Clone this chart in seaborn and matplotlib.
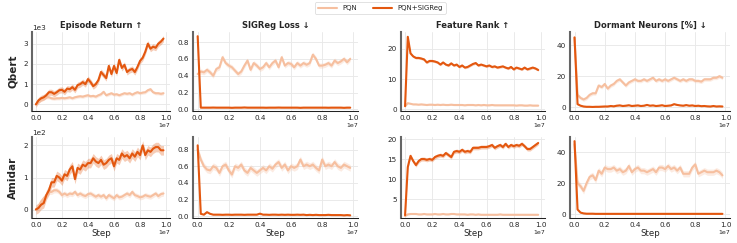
import numpy as np
import pandas as pd
import seaborn as sns
import matplotlib.pyplot as plt
from matplotlib.ticker import MultipleLocator

# training steps (x 1e7)
steps = np.arange(50) * 2e5

# ---- Qbert ----
qbert_return_pqn = [0.0, 0.15, 0.25, 0.3, 0.35, 0.35, 0.3, 0.28, 0.3, 0.3,
                    0.32, 0.3, 0.32, 0.35, 0.3, 0.35, 0.38, 0.4, 0.38, 0.42,
                    0.45, 0.4, 0.42, 0.38, 0.45, 0.5, 0.62, 0.45, 0.5, 0.55,
                    0.48, 0.5, 0.45, 0.5, 0.55, 0.52, 0.55, 0.48, 0.55, 0.6,
                    0.55, 0.58, 0.6, 0.7, 0.75, 0.6, 0.55, 0.55, 0.52, 0.55]
qbert_return_sig = [0.0, 0.2, 0.3, 0.35, 0.45, 0.6, 0.6, 0.52, 0.6, 0.7,
                    0.72, 0.62, 0.78, 0.75, 0.85, 0.72, 0.95, 1.0, 1.1, 1.0,
                    1.25, 1.1, 0.9, 1.0, 1.2, 1.6, 1.45, 1.3, 1.9, 1.5,
                    1.9, 1.55, 2.2, 1.8, 1.95, 1.6, 1.7, 1.75, 1.6, 1.85,
                    2.15, 2.3, 2.6, 3.0, 2.75, 2.85, 2.8, 3.0, 3.1, 3.25]
qbert_loss_pqn = [0.42, 0.45, 0.44, 0.47, 0.44, 0.4, 0.48, 0.5, 0.62, 0.55,
                  0.52, 0.5, 0.46, 0.42, 0.45, 0.52, 0.58, 0.47, 0.55, 0.52,
                  0.48, 0.5, 0.55, 0.5, 0.55, 0.58, 0.5, 0.62, 0.52, 0.55,
                  0.54, 0.5, 0.55, 0.52, 0.55, 0.53, 0.55, 0.65, 0.6, 0.52,
                  0.52, 0.53, 0.55, 0.52, 0.58, 0.55, 0.57, 0.6, 0.56, 0.6]
qbert_loss_sig = [0.87, 0.02, 0.02, 0.02, 0.02, 0.021, 0.02, 0.02, 0.02, 0.02,
                  0.02, 0.018, 0.02, 0.02, 0.02, 0.022, 0.02, 0.02, 0.02, 0.02,
                  0.02, 0.02, 0.019, 0.02, 0.02, 0.02, 0.021, 0.02, 0.02, 0.02,
                  0.02, 0.02, 0.02, 0.018, 0.02, 0.02, 0.02, 0.02, 0.02, 0.02,
                  0.02, 0.02, 0.019, 0.02, 0.02, 0.02, 0.02, 0.018, 0.02, 0.02]
qbert_rank_pqn = [1.0, 2.0, 1.8, 1.6, 1.6, 1.5, 1.6, 1.5, 1.4, 1.5,
                  1.5, 1.4, 1.5, 1.4, 1.5, 1.4, 1.4, 1.5, 1.4, 1.4,
                  1.4, 1.4, 1.3, 1.4, 1.4, 1.4, 1.3, 1.4, 1.3, 1.4,
                  1.3, 1.3, 1.4, 1.3, 1.3, 1.3, 1.3, 1.3, 1.3, 1.3,
                  1.3, 1.2, 1.3, 1.3, 1.2, 1.2, 1.3, 1.2, 1.2, 1.2]
qbert_rank_sig = [1.0, 24.0, 18.5, 17.5, 17.0, 17.0, 16.8, 16.5, 15.5, 16.0,
                  16.0, 15.8, 15.5, 14.8, 15.5, 14.8, 14.5, 15.2, 14.5, 14.8,
                  14.0, 14.5, 13.8, 14.0, 14.5, 15.0, 15.3, 14.5, 14.8, 14.5,
                  14.2, 14.5, 14.0, 14.2, 13.8, 14.0, 14.2, 13.8, 13.5, 14.0,
                  13.2, 13.8, 13.5, 13.2, 13.8, 13.2, 13.5, 13.8, 13.5, 13.0]
qbert_dormant_pqn = [45.0, 8.0, 6.0, 5.0, 6.0, 8.0, 9.0, 9.0, 14.0, 13.0,
                     15.0, 12.0, 14.0, 15.0, 17.0, 18.0, 16.0, 14.0, 16.0, 17.0,
                     18.0, 17.0, 17.0, 18.0, 17.0, 18.0, 19.0, 17.0, 18.0, 17.0,
                     18.0, 17.0, 18.0, 19.0, 18.0, 17.0, 18.0, 17.0, 18.0, 18.0,
                     17.0, 17.0, 16.5, 18.0, 18.0, 18.0, 19.0, 19.0, 20.0, 19.0]
qbert_dormant_sig = [45.0, 2.0, 1.0, 0.5, 0.3, 0.3, 0.2, 0.3, 0.3, 0.4,
                     0.5, 0.5, 0.8, 0.6, 1.0, 1.2, 0.8, 1.0, 1.3, 0.8,
                     1.0, 1.2, 0.8, 1.0, 1.5, 1.0, 1.2, 0.8, 1.0, 1.3,
                     0.8, 1.0, 1.2, 2.0, 1.5, 1.2, 1.0, 1.4, 1.0, 1.2,
                     0.8, 1.0, 0.7, 0.8, 0.6, 0.5, 0.8, 0.5, 0.6, 0.5]

# ---- Amidar ----
amidar_return_pqn = [0.0, 0.1, 0.25, 0.35, 0.45, 0.55, 0.55, 0.6, 0.6, 0.55,
                     0.45, 0.5, 0.45, 0.5, 0.48, 0.55, 0.45, 0.5, 0.45, 0.42,
                     0.48, 0.5, 0.45, 0.4, 0.45, 0.4, 0.45, 0.35, 0.45, 0.4,
                     0.35, 0.45, 0.38, 0.4, 0.45, 0.5, 0.45, 0.55, 0.45, 0.42,
                     0.38, 0.4, 0.45, 0.42, 0.4, 0.45, 0.5, 0.42, 0.48, 0.5]
amidar_return_sig = [0.0, 0.05, 0.15, 0.2, 0.45, 0.6, 0.85, 0.85, 1.05, 1.0,
                     0.9, 1.1, 1.05, 1.25, 1.35, 0.95, 1.3, 1.25, 1.4, 1.35,
                     1.45, 1.45, 1.6, 1.5, 1.45, 1.55, 1.4, 1.45, 1.55, 1.6,
                     1.35, 1.6, 1.55, 1.75, 1.65, 1.7, 1.6, 1.75, 1.65, 1.8,
                     1.7, 2.0, 1.7, 1.85, 1.8, 1.9, 1.95, 1.95, 1.85, 1.85]
amidar_loss_pqn = [0.8, 0.68, 0.6, 0.56, 0.55, 0.6, 0.58, 0.52, 0.6, 0.62,
                   0.55, 0.5, 0.6, 0.58, 0.62, 0.55, 0.52, 0.58, 0.55, 0.52,
                   0.55, 0.58, 0.55, 0.6, 0.57, 0.62, 0.65, 0.58, 0.62, 0.55,
                   0.6, 0.58, 0.6, 0.68, 0.6, 0.62, 0.6, 0.62, 0.58, 0.55,
                   0.68, 0.6, 0.62, 0.6, 0.65, 0.6, 0.58, 0.62, 0.6, 0.58]
amidar_loss_sig = [0.85, 0.03, 0.02, 0.05, 0.03, 0.02, 0.02, 0.02, 0.018, 0.02,
                   0.02, 0.018, 0.02, 0.02, 0.02, 0.018, 0.02, 0.02, 0.02, 0.02,
                   0.032, 0.02, 0.02, 0.018, 0.02, 0.02, 0.018, 0.02, 0.018, 0.02,
                   0.018, 0.018, 0.02, 0.018, 0.02, 0.015, 0.018, 0.015, 0.018, 0.015,
                   0.015, 0.015, 0.018, 0.015, 0.015, 0.015, 0.015, 0.012, 0.015, 0.012]
amidar_rank_pqn = [0.8, 1.2, 1.3, 1.3, 1.3, 1.2, 1.2, 1.3, 1.2, 1.2,
                   1.2, 1.3, 1.2, 1.2, 1.3, 1.2, 1.2, 1.3, 1.3, 1.2,
                   1.2, 1.2, 1.2, 1.1, 1.2, 1.2, 1.1, 1.2, 1.1, 1.1,
                   1.1, 1.1, 1.1, 1.1, 1.1, 1.2, 1.1, 1.1, 1.1, 1.1,
                   1.1, 1.1, 1.1, 1.1, 1.1, 1.1, 1.1, 1.1, 1.1, 1.1]
amidar_rank_sig = [1.0, 13.0, 15.8, 14.5, 13.5, 14.5, 15.0, 15.0, 14.8, 15.0,
                   14.8, 15.5, 15.8, 16.0, 15.8, 16.5, 16.0, 15.5, 16.8, 17.0,
                   16.8, 17.3, 16.8, 17.0, 16.8, 17.8, 17.8, 17.8, 18.0, 18.0,
                   18.0, 18.2, 18.5, 17.8, 18.2, 18.5, 18.0, 18.8, 18.0, 18.5,
                   18.2, 18.5, 18.3, 18.8, 18.2, 17.5, 17.5, 18.0, 18.5, 19.0]
amidar_dormant_pqn = [45.0, 20.0, 18.0, 15.0, 20.0, 24.0, 25.0, 22.0, 28.0, 26.0,
                      30.0, 29.0, 29.0, 30.0, 28.0, 29.0, 27.0, 28.0, 31.0, 27.0,
                      29.0, 30.0, 28.0, 28.0, 27.0, 28.0, 29.0, 27.0, 30.0, 30.0,
                      29.0, 31.0, 29.0, 30.0, 28.0, 30.0, 26.0, 26.0, 26.0, 30.0,
                      32.0, 26.0, 27.0, 28.0, 27.0, 27.0, 27.0, 28.0, 27.0, 25.0]
amidar_dormant_sig = [47.0, 3.0, 1.0, 0.5, 0.3, 0.3, 0.3, 0.2, 0.2, 0.2,
                      0.2, 0.2, 0.2, 0.2, 0.2, 0.2, 0.2, 0.2, 0.2, 0.2,
                      0.2, 0.2, 0.2, 0.2, 0.2, 0.2, 0.2, 0.2, 0.2, 0.2,
                      0.2, 0.2, 0.2, 0.2, 0.2, 0.2, 0.2, 0.2, 0.2, 0.2,
                      0.2, 0.2, 0.2, 0.2, 0.2, 0.2, 0.2, 0.2, 0.2, 0.2]

games = ["Qbert", "Amidar"]
metrics = ["Episode Return ↑", "SIGReg Loss ↓", "Feature Rank ↑", "Dormant Neurons [%] ↓"]
methods = ["PQN", "PQN+SIGReg"]
# value scale per game for the return panel (shown with 1eN offset)
return_scale = {"Qbert": 1e3, "Amidar": 1e2}
# y tick spacing per metric column
ytick_step = [None, 0.2, 10, 20]

series = {
    ("Qbert", 0): (qbert_return_pqn, qbert_return_sig),
    ("Qbert", 1): (qbert_loss_pqn, qbert_loss_sig),
    ("Qbert", 2): (qbert_rank_pqn, qbert_rank_sig),
    ("Qbert", 3): (qbert_dormant_pqn, qbert_dormant_sig),
    ("Amidar", 0): (amidar_return_pqn, amidar_return_sig),
    ("Amidar", 1): (amidar_loss_pqn, amidar_loss_sig),
    ("Amidar", 2): (amidar_rank_pqn, amidar_rank_sig),
    ("Amidar", 3): (amidar_dormant_pqn, amidar_dormant_sig),
}
# half-width of the shaded seed band (pqn, sig)
spread = {
    ("Qbert", 0): (0.08, 0.15), ("Qbert", 1): (0.03, 0.004),
    ("Qbert", 2): (0.2, 0.4), ("Qbert", 3): (1.2, 0.3),
    ("Amidar", 0): (0.08, 0.15), ("Amidar", 1): (0.04, 0.004),
    ("Amidar", 2): (0.15, 0.5), ("Amidar", 3): (2.0, 0.3),
}

palette = {"PQN": "#f6bf9f", "PQN+SIGReg": "#e3570f"}

sns.set_theme(style="whitegrid")
plt.rcParams["font.family"] = ["DejaVu Sans"]

fig = plt.figure(figsize=(14.74, 4.86), dpi=50)
W, H = 737, 243
cols_px = [(32, 170), (193, 358), (401, 545), (570, 730)]
rows_px = [(32, 111), (137, 218)]

axes = {}
for r, game in enumerate(games):
    for c, metric in enumerate(metrics):
        x0, x1 = cols_px[c]
        y0, y1 = rows_px[r]
        ax = fig.add_axes([x0 / W, 1 - y1 / H, (x1 - x0) / W, (y1 - y0) / H])
        pqn, sig = series[(game, c)]
        scale = return_scale[game] if c == 0 else 1.0
        df = pd.DataFrame({
            "step": np.concatenate([steps, steps]),
            "value": np.concatenate([np.array(pqn), np.array(sig)]) * scale,
            "method": ["PQN"] * len(pqn) + ["PQN+SIGReg"] * len(sig),
        })
        for m, vals, sp in [("PQN", pqn, spread[(game, c)][0]),
                            ("PQN+SIGReg", sig, spread[(game, c)][1])]:
            v = np.array(vals) * scale
            ax.fill_between(steps, v - sp * scale, v + sp * scale,
                            color=palette[m], alpha=0.3, lw=0)
        sns.lineplot(data=df, x="step", y="value", hue="method", palette=palette,
                     hue_order=methods, ax=ax, linewidth=3.0, legend=False,
                     errorbar=None)
        ax.set_xlim(-0.03e7, 1.03e7)
        ax.set_xlabel("Step" if r == 1 else "", fontsize=12.5, labelpad=1)
        ax.set_ylabel("")
        if r == 0:
            ax.set_title(metric, fontsize=12, fontweight="bold", pad=6)
        if c == 0:
            ax.set_ylabel(game, fontsize=15, fontweight="bold", labelpad=8)
            ax.ticklabel_format(style="sci", axis="y", scilimits=(0, 0))
            ax.yaxis.set_major_locator(MultipleLocator(scale))
        else:
            ax.yaxis.set_major_locator(MultipleLocator(ytick_step[c]))
        ax.xaxis.set_major_locator(MultipleLocator(0.2e7))
        ax.tick_params(labelsize=10.5, length=4, width=1, color="#333333", pad=2)
        ax.xaxis.get_offset_text().set_fontsize(9)
        ax.yaxis.get_offset_text().set_fontsize(10.5)
        ax.grid(True, color="#e8e8e8", linewidth=1.3)
        for s in ["top", "right"]:
            ax.spines[s].set_visible(False)
        ax.spines["left"].set_color("#666666")
        ax.spines["left"].set_linewidth(3.0)
        ax.spines["bottom"].set_color("#222222")
        ax.spines["bottom"].set_linewidth(1.5)
        axes[(r, c)] = ax

axes[(1, 1)].set_ylim(-0.02, 0.95)
axes[(0, 1)].set_ylim(-0.02, 0.92)
axes[(1, 2)].set_ylim(0.3, 20.5)
axes[(1, 2)].set_yticks([5, 10, 15, 20])

handles = [plt.Line2D([], [], color=palette[m], lw=3.0) for m in methods]
fig.legend(handles, methods, loc="upper center", bbox_to_anchor=(0.516, 1.005),
           ncol=2, fontsize=10, frameon=True, handlelength=2.8, columnspacing=2.2)

fig.savefig("out.png", dpi=50)
